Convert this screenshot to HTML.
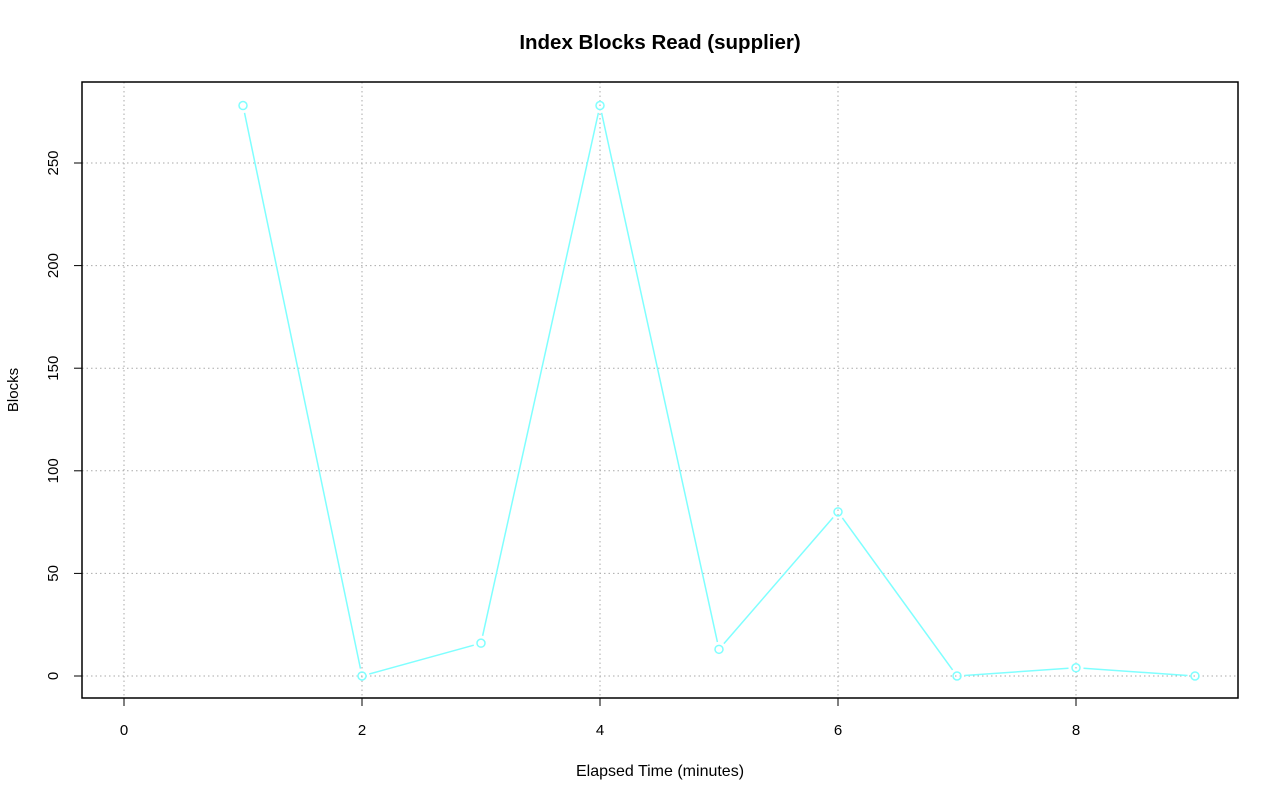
<!DOCTYPE html>
<html><head><meta charset="utf-8"><style>body{margin:0;background:#fff}svg{display:block}text{font-family:"Liberation Sans",sans-serif;fill:#000}</style></head>
<body>
<svg id="s" width="1280" height="801" xmlns="http://www.w3.org/2000/svg">
<rect width="1280" height="801" fill="#fff"/>
<text x="660" y="49" font-size="20.5" font-weight="bold" text-anchor="middle">Index Blocks Read (supplier)</text>
<text x="660" y="776" font-size="16" text-anchor="middle">Elapsed Time (minutes)</text>
<text transform="translate(18,390) rotate(-90)" font-size="15" text-anchor="middle">Blocks</text>
<g id="g"></g>
<rect x="82" y="82" width="1156" height="616" fill="none" stroke="#000" stroke-width="1.5"/>
</svg>
<script>
var g=document.getElementById('g'),h='';
function X(v){return 124+v*119}function Y(v){return 676-v*2.052}
for(var i=0;i<=8;i+=2){var x=X(i);h+='<line x1="'+x+'" y1="82" x2="'+x+'" y2="698" stroke="#aaa" stroke-dasharray="1.5,3"/>';
h+='<line x1="'+x+'" y1="698" x2="'+x+'" y2="706" stroke="#000"/><text x="'+x+'" y="735" font-size="15" text-anchor="middle">'+i+'</text>';}
for(var v=0;v<=250;v+=50){var y=Y(v);h+='<line x1="82" y1="'+y+'" x2="1238" y2="'+y+'" stroke="#aaa" stroke-dasharray="1.5,3"/>';
h+='<line x1="74" y1="'+y+'" x2="82" y2="'+y+'" stroke="#000"/><text transform="translate(58,'+y+') rotate(-90)" font-size="15" text-anchor="middle">'+v+'</text>';}
h+='<line x1="124" y1="698" x2="1076" y2="698" stroke="#000"/><line x1="82" y1="163" x2="82" y2="676" stroke="#000"/>';
var d=[[1,278],[2,0],[3,16],[4,278],[5,13],[6,80],[7,0],[8,4],[9,0]],r=7.5;
for(var k=0;k<d.length-1;k++){var x1=X(d[k][0]),y1=Y(d[k][1]),x2=X(d[k+1][0]),y2=Y(d[k+1][1]);var dx=x2-x1,dy=y2-y1,L=Math.hypot(dx,dy);
h+='<line x1="'+(x1+dx/L*r)+'" y1="'+(y1+dy/L*r)+'" x2="'+(x2-dx/L*r)+'" y2="'+(y2-dy/L*r)+'" stroke="#7fffff" stroke-width="1.5"/>';}
d.forEach(function(p){h+='<circle cx="'+X(p[0])+'" cy="'+Y(p[1])+'" r="4" fill="none" stroke="#7fffff" stroke-width="1.5"/>';});
g.innerHTML=h;
</script>
</body></html>
